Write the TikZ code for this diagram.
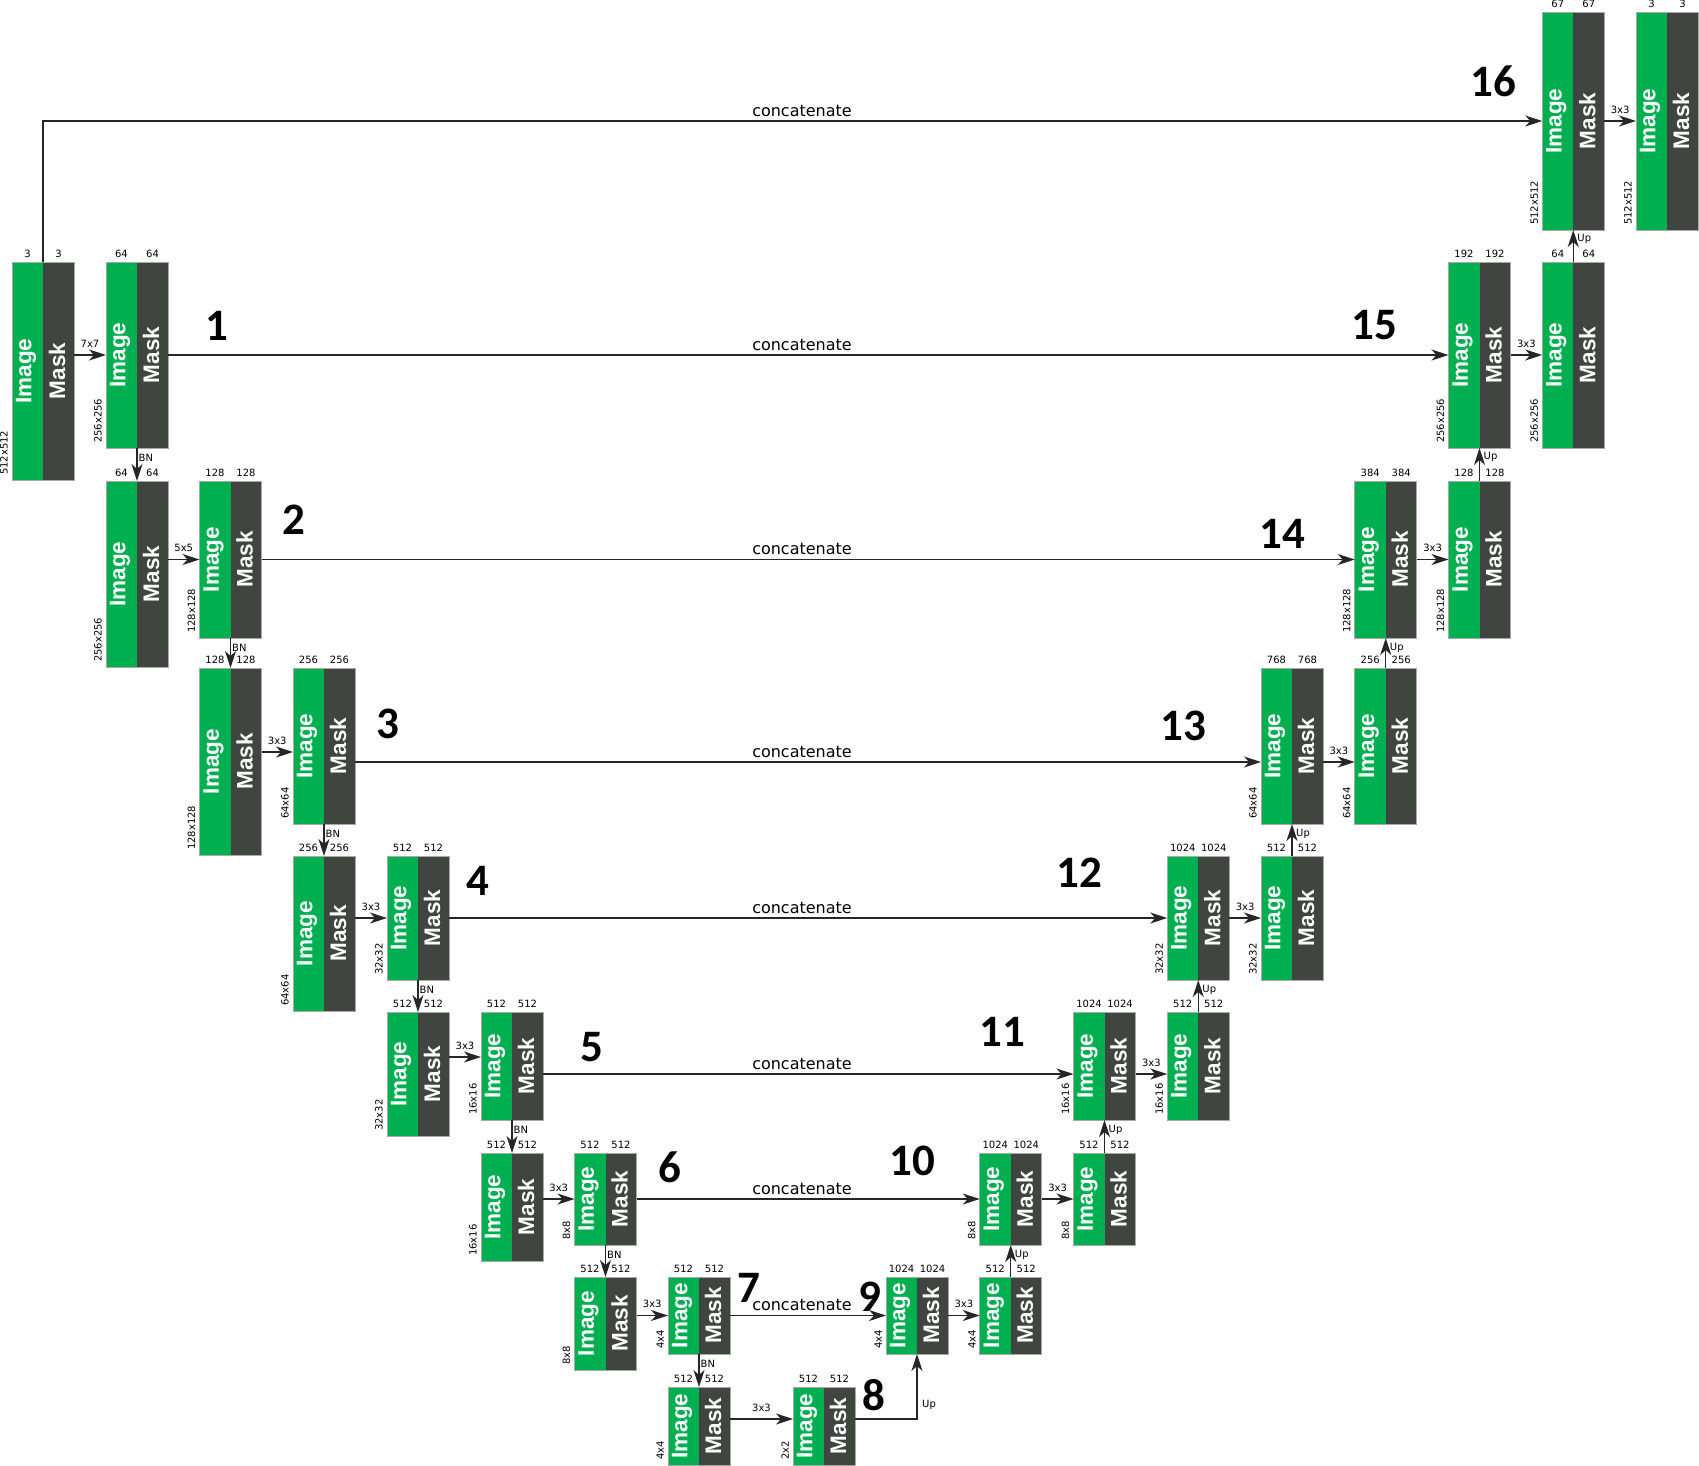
\documentclass[tikz,border=0pt]{standalone}
\usepackage{fontspec}
\setmainfont{DejaVu Sans}
\newfontfamily\blkfont{Liberation Sans}
\newfontfamily\bigfont{Carlito}
\usetikzlibrary{arrows.meta,calc}
\definecolor{imgc}{RGB}{0,176,80}
\definecolor{mskc}{RGB}{64,69,64}
\definecolor{bordc}{RGB}{165,170,165}
\tikzset{
  conn/.style={line width=1.3pt, draw=black!85, -{Stealth[length=17pt,width=11pt,inset=5pt]}},
  blkframe/.style={draw=bordc, line width=0.8pt, inner sep=0pt, outer sep=0pt, minimum width=62pt, anchor=north west},
  inlbl/.style={text=white, font=\blkfont\bfseries\fontsize{22.5}{24}\selectfont, inner sep=0pt, rotate=90},
  small/.style={font=\fontsize{10}{12}\selectfont, inner sep=0pt},
  bignum/.style={font=\bigfont\bfseries\fontsize{45}{50}\selectfont, inner sep=0pt, anchor=base},
  catlbl/.style={font=\fontsize{16}{18}\selectfont, inner sep=0pt, anchor=base},
}
% name, x, y, h, top label, dim label
\newcommand\blk[6]{%
  \fill[imgc] (#2,#3) rectangle ++(31,#4);
  \fill[mskc] (#2+31,#3) rectangle ++(31,#4);
  \node[blkframe, minimum height=#4pt] (#1) at (#2,#3) {};
  \node[inlbl] (#1-i) at (#2+14,#3+#4/2) {Image};
  \node[inlbl] (#1-m) at (#2+45,#3+#4/2) {Mask};
  \node[small, anchor=base] (#1-ti) at (#2+15.5,#3-5) {#5};
  \node[small, anchor=base] (#1-tm) at (#2+46.5,#3-5) {#5};
  \node[small, rotate=90, anchor=south west] (#1-d) at (#2-4,#3+#4-5) {#6};
}
% name, from, to, label
\newcommand\harr[4]{%
  \draw[conn] (#2) -- (#3);
  \node[small, anchor=base] (#1) at ($(#2)!0.5!(#3)+(0,-8)$) {#4};
}
% vertical arrow: name, from block, to block, label
\newcommand\bnarr[3]{%
  \draw[conn] (#2.south) -- (#3.north);
  \node[small, anchor=north west] (#1) at ($(#2.south)+(1.5,6)$) {BN};
}
\newcommand\uparr[3]{%
  \draw[conn] (#2.north) -- (#3.south);
  \node[small, anchor=north west] (#1) at ($(#3.south)+(4,4.5)$) {Up};
}
\begin{document}
\begin{tikzpicture}[x=1pt,y=-1pt]
\useasboundingbox (0,0) rectangle (1699,1465);
% encoder
\blk{B0}{12}{262}{218}{3}{512x512}
\blk{B1}{106}{262}{186}{64}{256x256}
\blk{B1b}{106}{481}{186}{64}{256x256}
\blk{B2}{199.5}{481}{157}{128}{128x128}
\blk{B2b}{199.5}{668}{187}{128}{128x128}
\blk{B3}{293}{668}{156}{256}{64x64}
\blk{B3b}{293}{856}{155}{256}{64x64}
\blk{B4}{387}{856}{124}{512}{32x32}
\blk{B4b}{387}{1012}{124}{512}{32x32}
\blk{B5}{481}{1012}{108}{512}{16x16}
\blk{B5b}{481}{1153}{108}{512}{16x16}
\blk{B6}{574.5}{1153}{92}{512}{8x8}
\blk{B6b}{574.5}{1277}{93}{512}{8x8}
\blk{B7}{668}{1277}{77}{512}{4x4}
\blk{B7b}{668}{1387}{78}{512}{4x4}
\blk{B8}{793}{1387}{78}{512}{2x2}
% decoder
\blk{B9}{886}{1277}{77}{1024}{4x4}
\blk{B9b}{979.75}{1277}{77}{512}{4x4}
\blk{B10}{979.75}{1153}{92}{1024}{8x8}
\blk{B10b}{1073.5}{1153}{92}{512}{8x8}
\blk{B11}{1073.5}{1012}{108}{1024}{16x16}
\blk{B11b}{1167.25}{1012}{108}{512}{16x16}
\blk{B12}{1167.25}{856}{124}{1024}{32x32}
\blk{B12b}{1261}{856}{124}{512}{32x32}
\blk{B13}{1261}{668}{156}{768}{64x64}
\blk{B13b}{1354.75}{668}{156}{256}{64x64}
\blk{B14}{1354.75}{481}{157}{384}{128x128}
\blk{B14b}{1448.5}{481}{157}{128}{128x128}
\blk{B15}{1448.5}{262}{186}{192}{256x256}
\blk{B15b}{1542.25}{262}{186}{64}{256x256}
\blk{B16}{1542.25}{12}{218}{67}{512x512}
\blk{B16b}{1636}{12}{218}{3}{512x512}
% row y levels
\coordinate (y3a) at (0,752);
\coordinate (y3b) at (0,762);
\coordinate (y5a) at (0,1057);
\coordinate (y5b) at (0,1074);
\coordinate (y8) at (0,1419);
% row 0
\draw[conn] (B0.north) |- (B16.west);
\node[catlbl] (c0) at (802,116) {concatenate};
\harr{a16}{B16.east}{B16b.west}{3x3}
% row 1
\coordinate (s1) at (B0.east |- B1.west);
\harr{a1}{s1}{B1.west}{7x7}
\draw[conn] (B1.east) -- (B15.west);
\node[catlbl] (c1) at (802,350) {concatenate};
\harr{a15}{B15.east}{B15b.west}{3x3}
\uparr{u15}{B15b}{B16}
\bnarr{bn1}{B1}{B1b}
% row 2
\coordinate (s2) at (B1b.east |- B2.west);
\harr{a2}{s2}{B2.west}{5x5}
\draw[conn] (B2.east) -- (B14.west);
\node[catlbl] (c2) at (802,554.5) {concatenate};
\harr{a14}{B14.east}{B14b.west}{3x3}
\uparr{u14}{B14b}{B15}
\bnarr{bn2}{B2}{B2b}
% row 3
\coordinate (s3a) at (B2b.east |- y3a);
\coordinate (s3b) at (B3.west |- y3a);
\harr{a3}{s3a}{s3b}{3x3}
\coordinate (s3c) at (B3.east |- y3b);
\coordinate (s3d) at (B13.west |- y3b);
\draw[conn] (s3c) -- (s3d);
\node[catlbl] (c3) at (802,757) {concatenate};
\coordinate (s3e) at (B13.east |- y3b);
\coordinate (s3f) at (B13b.west |- y3b);
\harr{a13}{s3e}{s3f}{3x3}
\uparr{u13}{B13b}{B14}
\bnarr{bn3}{B3}{B3b}
% row 4
\coordinate (s4) at (B3b.east |- B4.west);
\harr{a4}{s4}{B4.west}{3x3}
\draw[conn] (B4.east) -- (B12.west);
\node[catlbl] (c4) at (802,913) {concatenate};
\harr{a12}{B12.east}{B12b.west}{3x3}
\uparr{u12}{B12b}{B13}
\bnarr{bn4}{B4}{B4b}
% row 5
\coordinate (s5a) at (B4b.east |- y5a);
\coordinate (s5b) at (B5.west |- y5a);
\harr{a5}{s5a}{s5b}{3x3}
\coordinate (s5c) at (B5.east |- y5b);
\coordinate (s5d) at (B11.west |- y5b);
\draw[conn] (s5c) -- (s5d);
\node[catlbl] (c5) at (802,1069) {concatenate};
\coordinate (s5e) at (B11.east |- y5b);
\coordinate (s5f) at (B11b.west |- y5b);
\harr{a11}{s5e}{s5f}{3x3}
\uparr{u11}{B11b}{B12}
\bnarr{bn5}{B5}{B5b}
% row 6
\coordinate (s6) at (B5b.east |- B6.west);
\harr{a6}{s6}{B6.west}{3x3}
\draw[conn] (B6.east) -- (B10.west);
\node[catlbl] (c6) at (802,1194) {concatenate};
\harr{a10}{B10.east}{B10b.west}{3x3}
\uparr{u10}{B10b}{B11}
\bnarr{bn6}{B6}{B6b}
% row 7
\coordinate (s7) at (B6b.east |- B7.west);
\harr{a7}{s7}{B7.west}{3x3}
\draw[conn] (B7.east) -- (B9.west);
\node[catlbl] (c7) at (802,1310.5) {concatenate};
\harr{a9}{B9.east}{B9b.west}{3x3}
\uparr{u9}{B9b}{B10}
\bnarr{bn7}{B7}{B7b}
% row 8
\coordinate (s8a) at (B7b.east |- y8);
\coordinate (s8b) at (B8.west |- y8);
\harr{a8}{s8a}{s8b}{3x3}
\coordinate (s8c) at (B8.east |- y8);
\draw[conn] (s8c) -| (B9.south);
\node[small, anchor=north west] (u8) at ($(B9.south)+(5,46)$) {Up};
% big numbers
\node[bignum] (n1) at (217,340.7) {1};
\node[bignum] (n2) at (293.6,534.5) {2};
\node[bignum] (n3) at (387.5,738) {3};
\node[bignum] (n4) at (478,895.5) {4};
\node[bignum] (n5) at (591.6,1061) {5};
\node[bignum] (n6) at (669.6,1182.5) {6};
\node[bignum] (n7) at (749,1302) {7};
\node[bignum] (n8) at (874,1410) {8};
\node[bignum] (n9) at (870,1311) {9};
\node[bignum] (n10) at (912.5,1175) {10};
\node[bignum] (n11) at (1002,1046) {11};
\node[bignum] (n12) at (1079,887.5) {12};
\node[bignum] (n13) at (1183,740.5) {13};
\node[bignum] (n14) at (1282,548.5) {14};
\node[bignum] (n15) at (1374,339) {15};
\node[bignum] (n16) at (1493,96.7) {16};
\end{tikzpicture}
\end{document}
